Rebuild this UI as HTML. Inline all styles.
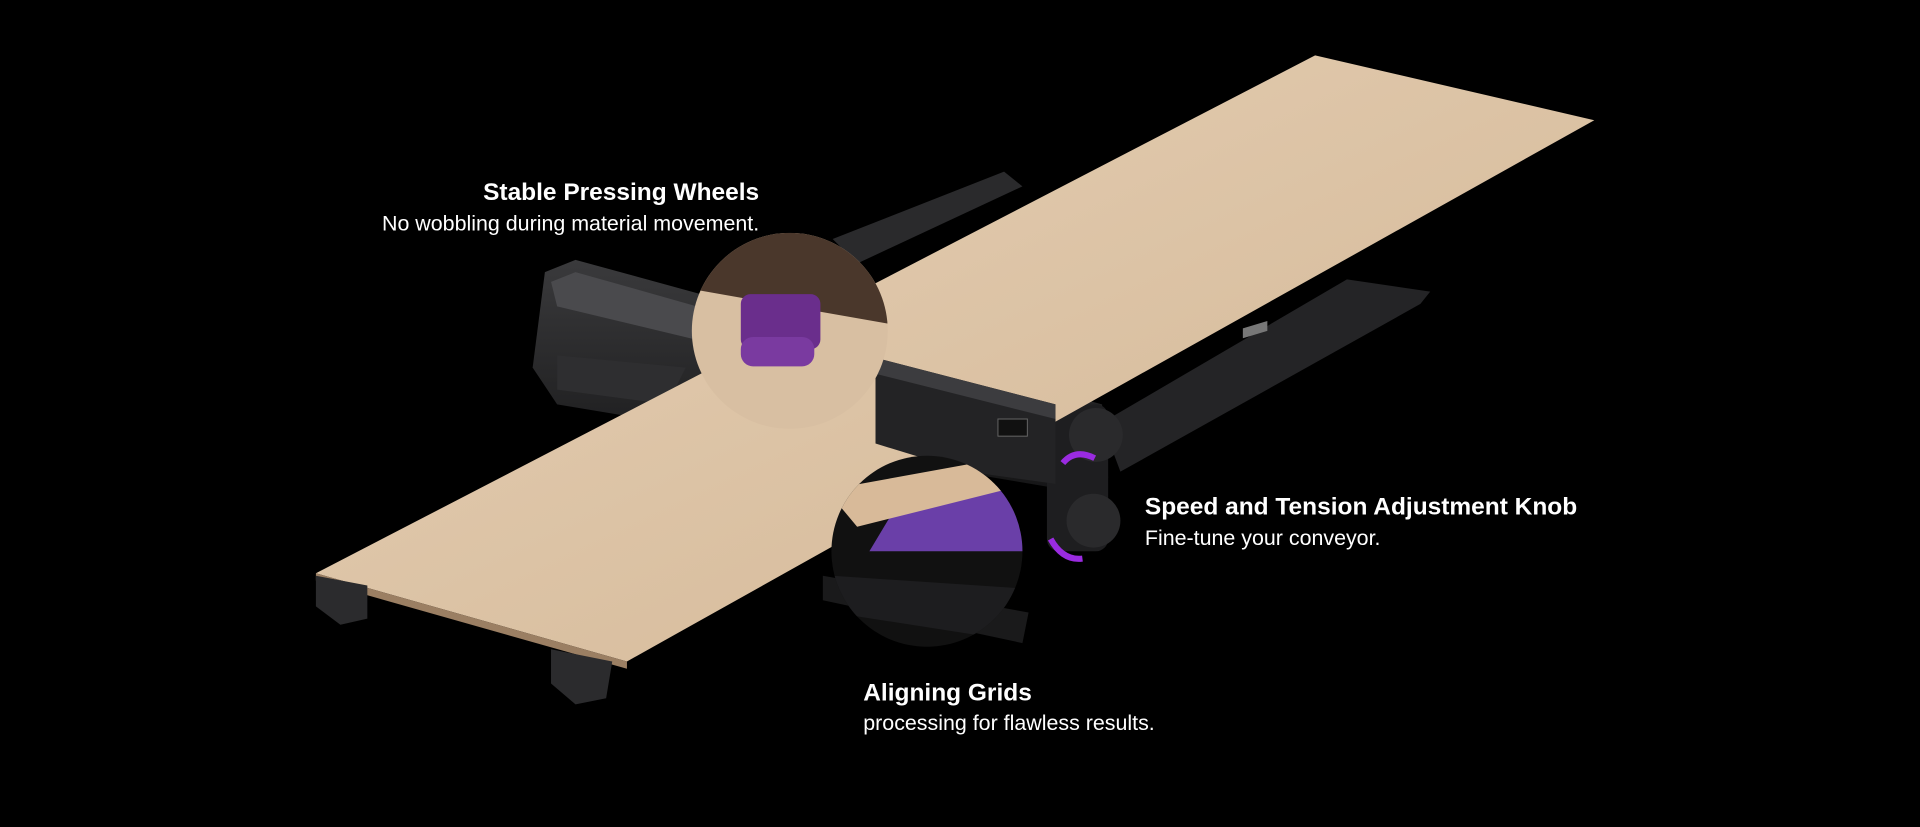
<!DOCTYPE html>
<html><head><meta charset="utf-8"><style>
html,body{margin:0;padding:0;background:#000;width:1920px;height:827px;overflow:hidden}
svg{display:block}
text{font-family:"Liberation Sans",sans-serif;fill:#fff}
</style></head><body>
<svg width="1920" height="827" viewBox="0 0 1568 675" xmlns="http://www.w3.org/2000/svg">
<defs>
<linearGradient id="wood" x1="0" y1="0" x2="1" y2="1">
<stop offset="0" stop-color="#e6d0b6"/><stop offset="0.5" stop-color="#dcc3a5"/><stop offset="1" stop-color="#d2b594"/>
</linearGradient>
<linearGradient id="metal" x1="0" y1="0" x2="0" y2="1">
<stop offset="0" stop-color="#3a3a3c"/><stop offset="1" stop-color="#161617"/>
</linearGradient>
<clipPath id="c1"><circle cx="645" cy="270" r="80"/></clipPath>
<clipPath id="c2"><circle cx="757" cy="450" r="78"/></clipPath>
</defs>
<rect width="1568" height="675" fill="#000"/>
<polygon points="680,195 820,140 835,152 700,215" fill="#2a2a2c"/>
<polygon points="900,345 1100,228 1168,238 1160,248 915,385" fill="#242426"/>
<polygon points="1015,268 1035,262 1035,270 1015,276" fill="#777"/>
<polygon points="445,222 470,212 900,330 905,390 860,398 455,330 435,300" fill="url(#metal)"/>
<polygon points="450,230 470,222 880,338 880,352 455,250" fill="#4a4a4d"/>
<polygon points="455,290 560,300 545,330 455,318" fill="#2e2e30"/>
<rect x="855" y="330" width="50" height="120" rx="10" fill="#1e1e20"/>
<circle cx="895" cy="355" r="22" fill="#2a2a2c"/><circle cx="893" cy="425" r="22" fill="#2a2a2c"/>
<polygon points="1074,45 1302,98 512,540 258,468" fill="url(#wood)"/>
<polygon points="258,468 512,540 512,546 258,474" fill="#9b7f63"/>
<!-- gantry over board -->
<polygon points="715,292 862,330 862,395 790,385 715,362" fill="#232325"/>
<polygon points="715,292 862,330 862,342 715,305" fill="#3c3c3f"/>
<rect x="815" y="342" width="24" height="14" fill="#111" stroke="#666" stroke-width="0.8"/>
<polygon points="258,470 300,478 300,505 278,510 258,495" fill="#2b2b2d"/>
<polygon points="450,530 500,540 495,570 470,575 450,558" fill="#2b2b2d"/>
<polygon points="672,470 840,500 835,525 672,490" fill="#1a1a1b"/>
<g clip-path="url(#c1)">
<rect x="560" y="190" width="170" height="170" fill="#d8bfa2"/>
<polygon points="560,190 730,190 730,265 560,235" fill="#4a372b"/>
<rect x="605" y="240" width="65" height="45" rx="8" fill="#6a2e8c"/>
<rect x="605" y="275" width="60" height="24" rx="10" fill="#7a3aa0"/>
</g>
<g clip-path="url(#c2)">
<rect x="675" y="370" width="170" height="160" fill="#111"/>
<polygon points="740,400 840,395 840,450 710,450" fill="#6a3fa8"/>
<polygon points="675,400 840,370 840,395 700,430" fill="#d8ba99"/>
<polygon points="680,470 830,480 840,525 680,500" fill="#1d1d1f"/>
</g>
<path d="M868,378 q10,-12 26,-4" stroke="#9a2be0" stroke-width="5" fill="none"/>
<path d="M858,440 q10,18 26,16" stroke="#9a2be0" stroke-width="5" fill="none"/>
<text x="620" y="163" text-anchor="end" font-size="20" font-weight="bold">Stable Pressing Wheels</text>
<text x="620" y="188" text-anchor="end" font-size="17.5">No wobbling during material movement.</text>
<text x="935" y="420" font-size="20" font-weight="bold">Speed and Tension Adjustment Knob</text>
<text x="935" y="445" font-size="17.5">Fine-tune your conveyor.</text>
<text x="705" y="572" font-size="20" font-weight="bold">Aligning Grids</text>
<text x="705" y="596" font-size="17.5">processing for flawless results.</text>
</svg>
</body></html>
